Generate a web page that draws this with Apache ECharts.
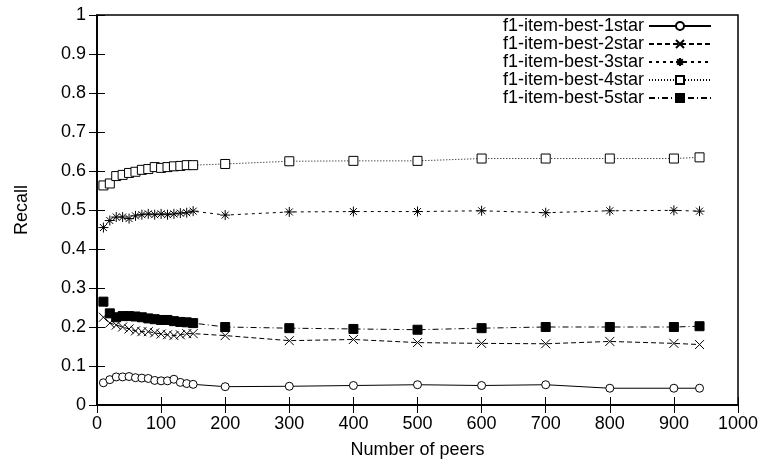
<!DOCTYPE html>
<html>
<head>
<meta charset="utf-8">
<script src="https://cdn.jsdelivr.net/npm/echarts@6/dist/echarts.min.js"></script>
<style>
    html, body { margin: 0; padding: 0; background: #fff; }
    #main { width: 766px; height: 468px; }
</style>
</head>
<body>
<div id="main"></div>
<script>
// data
var peers = [10, 20, 30, 40, 50, 60, 70, 80, 90, 100, 110, 120, 130, 140, 150,
             200, 300, 400, 500, 600, 700, 800, 900, 940];
var seriesNames = ['f1-item-best-1star', 'f1-item-best-2star', 'f1-item-best-3star',
                   'f1-item-best-4star', 'f1-item-best-5star'];
var recall1 = [0.057, 0.065, 0.072, 0.072, 0.073, 0.070, 0.069, 0.068, 0.063, 0.062, 0.062, 0.066, 0.058, 0.055, 0.053,
               0.047, 0.048, 0.050, 0.052, 0.050, 0.052, 0.043, 0.043, 0.043];
var recall2 = [0.225, 0.210, 0.205, 0.200, 0.195, 0.190, 0.188, 0.188, 0.185, 0.182, 0.180, 0.178, 0.180, 0.183, 0.183,
               0.178, 0.165, 0.168, 0.160, 0.158, 0.157, 0.163, 0.158, 0.155];
var recall3 = [0.455, 0.473, 0.482, 0.482, 0.478, 0.485, 0.488, 0.490, 0.488, 0.490, 0.488, 0.490, 0.492, 0.493, 0.497,
               0.487, 0.495, 0.496, 0.496, 0.498, 0.493, 0.498, 0.499, 0.497];
var recall4 = [0.563, 0.568, 0.587, 0.590, 0.595, 0.598, 0.603, 0.605, 0.610, 0.608, 0.610, 0.612, 0.613, 0.615, 0.615,
               0.618, 0.625, 0.626, 0.626, 0.632, 0.632, 0.632, 0.632, 0.635];
var recall5 = [0.265, 0.235, 0.225, 0.228, 0.228, 0.227, 0.225, 0.222, 0.220, 0.218, 0.218, 0.215, 0.213, 0.212, 0.210,
               0.200, 0.197, 0.195, 0.193, 0.197, 0.200, 0.200, 0.200, 0.202];

var xTicks = { min: 0, max: 1000, interval: 100 };
var yTicks = { min: 0, max: 1, interval: 0.1 };

function pairs(ys) {
    return peers.map(function (x, i) { return [x, ys[i]]; });
}

var font = 'Liberation Sans, Arial, sans-serif';
var fs = 18;
var crossPath = 'path://M0,0L10,10M10,0L0,10';
var starPath = 'path://M0,5L10,5M5,0L5,10M1.5,1.5L8.5,8.5M8.5,1.5L1.5,8.5';

function mkSeries(name, ys, symbol, size, dash, fill) {
    return {
        name: name,
        type: 'line',
        data: pairs(ys),
        symbol: symbol,
        symbolSize: size,
        showAllSymbol: true,
        animation: false,
        lineStyle: { color: '#000', width: 1, type: dash },
        itemStyle: { color: fill, borderColor: '#000', borderWidth: 1 }
    };
}

var myChart = echarts.init(document.getElementById('main'));
var option = {
    backgroundColor: '#fff',
    animation: false,
    textStyle: { fontFamily: font },
    grid: { left: 97, right: 28, top: 15, bottom: 63, show: true, borderColor: '#000', borderWidth: 1.5 },
    legend: {
        orient: 'vertical',
        right: 49,
        top: 12,
        align: 'right',
        itemWidth: 62,
        itemHeight: 10,
        itemGap: 0,
        textStyle: { fontFamily: font, fontSize: fs, color: '#000', lineHeight: 17.5 },
        data: seriesNames
    },
    xAxis: [{
        type: 'value', min: xTicks.min, max: xTicks.max, interval: xTicks.interval,
        name: 'Number of peers', nameLocation: 'middle', nameGap: 36,
        nameTextStyle: { fontSize: fs, color: '#000', fontFamily: font },
        axisLine: { lineStyle: { color: '#000', width: 1.5 } },
        axisTick: { inside: true, length: 8, lineStyle: { color: '#000' } },
        axisLabel: { color: '#000', fontSize: fs, margin: 10, fontFamily: font,
                     formatter: function (v) { return String(v); } },
        splitLine: { show: false }
    }, {
        type: 'value', position: 'top', min: xTicks.min, max: xTicks.max, interval: xTicks.interval,
        axisLine: { lineStyle: { color: '#000', width: 1.5 } },
        axisTick: { inside: true, length: 8, lineStyle: { color: '#000' } },
        axisLabel: { show: false },
        splitLine: { show: false }
    }],
    yAxis: [{
        type: 'value', min: yTicks.min, max: yTicks.max, interval: yTicks.interval,
        name: 'Recall', nameLocation: 'middle', nameGap: 66,
        nameTextStyle: { fontSize: fs, color: '#000', fontFamily: font },
        axisLine: { show: true, lineStyle: { color: '#000', width: 1.5 } },
        axisTick: { show: true, inside: true, length: 8, lineStyle: { color: '#000' } },
        axisLabel: { color: '#000', fontSize: fs, margin: 11, fontFamily: font },
        splitLine: { show: false }
    }, {
        type: 'value', position: 'right', min: yTicks.min, max: yTicks.max, interval: yTicks.interval,
        axisLine: { show: true, lineStyle: { color: '#000', width: 1.5 } },
        axisTick: { show: true, inside: true, length: 8, lineStyle: { color: '#000' } },
        axisLabel: { show: false },
        splitLine: { show: false }
    }],
    series: [
        mkSeries(seriesNames[0], recall1, 'circle', 8, 'solid', '#fff'),
        mkSeries(seriesNames[1], recall2, crossPath, 9, [5, 3], '#000'),
        mkSeries(seriesNames[2], recall3, starPath, 10, [3, 4], '#000'),
        mkSeries(seriesNames[3], recall4, 'rect', 9, [1, 2], '#fff'),
        mkSeries(seriesNames[4], recall5, 'rect', 9, [6, 3, 1, 3], '#000')
    ]
};
if (option && typeof option === "object") {
    myChart.setOption(option, true);
}
</script>
</body>
</html>
